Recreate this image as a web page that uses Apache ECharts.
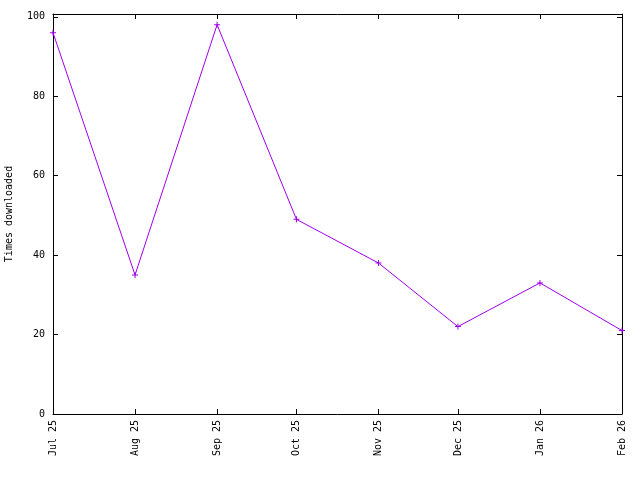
<!DOCTYPE html>
<html>
<head>
<meta charset="utf-8">
<script src="https://cdn.jsdelivr.net/npm/echarts@6/dist/echarts.min.js"></script>
<style>html,body{margin:0;padding:0;background:#fff}#c{width:640px;height:480px}</style>
</head>
<body>
<div id="c"></div>
<script>
const monthDates = [[2025,6],[2025,7],[2025,8],[2025,9],[2025,10],[2025,11],[2026,0],[2026,1]];
const tickLabels = ['Jul 25','Aug 25','Sep 25','Oct 25','Nov 25','Dec 25','Jan 26','Feb 26'];
const downloads = [96, 35, 98, 49, 38, 22, 33, 21];
const yTicks = [0, 20, 40, 60, 80, 100];

// days since the first month, so the x axis is spaced by calendar time
const DAY = 86400000;
const base = Date.UTC(monthDates[0][0], monthDates[0][1], 1);
const days = monthDates.map(d => Math.round((Date.UTC(d[0], d[1], 1) - base) / DAY));
const seriesData = days.map((t, i) => [t, downloads[i]]);
function labelFor(v) {
  let best = 0;
  for (let i = 1; i < days.length; i++) if (Math.abs(days[i] - v) < Math.abs(days[best] - v)) best = i;
  return tickLabels[best];
}
const font = 'DejaVu Sans Mono';
const axisLine = { show: true, onZero: false, lineStyle: { color: '#000', width: 1 } };
const tick = { show: true, inside: true, length: 5, lineStyle: { color: '#000', width: 1 } };

const chart = echarts.init(document.getElementById('c'), null, { renderer: 'canvas' });
chart.setOption({
  animation: false,
  backgroundColor: '#fff',
  grid: { left: 53, right: 18, top: 14, bottom: 66, containLabel: false, outerBoundsMode: 'none' },
  xAxis: [{
    type: 'value', position: 'bottom',
    min: days[0], max: days[days.length - 1],
    axisLine: axisLine,
    axisTick: Object.assign({}, tick, { customValues: days }),
    axisLabel: { customValues: days, rotate: 90, margin: 6, fontFamily: font, fontSize: 10, color: '#000',
      formatter: v => labelFor(v) },
    splitLine: { show: false }
  }, {
    type: 'value', position: 'top',
    min: days[0], max: days[days.length - 1],
    axisLine: axisLine,
    axisTick: Object.assign({}, tick, { customValues: days }),
    axisLabel: { show: false },
    splitLine: { show: false }
  }],
  yAxis: [{
    type: 'value', position: 'left', min: 0, max: 100.7,
    name: 'Times downloaded', nameLocation: 'middle', nameGap: 39,
    nameTextStyle: { fontFamily: font, fontSize: 10, color: '#000' },
    axisLine: axisLine,
    axisTick: Object.assign({}, tick, { customValues: yTicks }),
    axisLabel: { customValues: yTicks, margin: 8, fontFamily: font, fontSize: 10, color: '#000' },
    splitLine: { show: false }
  }, {
    type: 'value', position: 'right', min: 0, max: 100.7,
    axisLine: axisLine,
    axisTick: Object.assign({}, tick, { customValues: yTicks }),
    axisLabel: { show: false },
    splitLine: { show: false }
  }],
  series: [{
    type: 'line',
    data: seriesData,
    xAxisIndex: 0, yAxisIndex: 0,
    lineStyle: { color: '#a000f0', width: 1 },
    itemStyle: { color: '#a000f0' },
    symbol: 'path://M2.5,0h1v2.5h2.5v1h-2.5v2.5h-1v-2.5h-2.5v-1h2.5z',
    symbolSize: 6,
    showSymbol: true
  }]
});
</script>
</body>
</html>
